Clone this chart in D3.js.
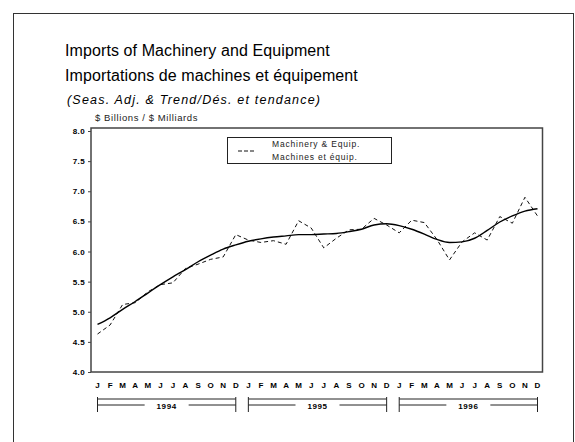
<!DOCTYPE html>
<html>
<head>
<meta charset="utf-8">
<script src="https://cdn.jsdelivr.net/npm/d3@7"></script>
<style>
  body { margin: 0; background: #fff; }
  text { font-family: "Liberation Sans", Arial, sans-serif; }
</style>
</head>
<body>
<script>
// Monthly values, Jan 1994 - Dec 1996 ($ billions)
const months = ["J","F","M","A","M","J","J","A","S","O","N","D"];
const years = ["1994", "1995", "1996"];
const seasAdj = [
    4.63, 4.78, 5.12, 5.15, 5.33, 5.45, 5.48, 5.72, 5.79, 5.87, 5.91, 6.28,
    6.19, 6.15, 6.18, 6.12, 6.51, 6.39, 6.06, 6.22, 6.36, 6.37, 6.55, 6.44,
    6.31, 6.52, 6.48, 6.20, 5.86, 6.16, 6.31, 6.19, 6.58, 6.47, 6.90, 6.59
];
const trend = [
    4.79, 4.90, 5.04, 5.17, 5.31, 5.45, 5.58, 5.70, 5.83, 5.94, 6.04, 6.11,
    6.17, 6.21, 6.24, 6.26, 6.28, 6.28, 6.29, 6.30, 6.33, 6.37, 6.44, 6.46,
    6.43, 6.37, 6.29, 6.20, 6.15, 6.16, 6.22, 6.35, 6.49, 6.59, 6.67, 6.71
];
const yTicks = [4.0, 4.5, 5.0, 5.5, 6.0, 6.5, 7.0, 7.5, 8.0];
const legendLabels = ["Machinery & Equip.", "Machines et équip."];

const width = 575;
const height = 442;

const svg = d3.select("body").append("svg")
    .attr("width", width)
    .attr("height", height);

// outer frame
svg.append("rect")
    .attr("x", 13.5).attr("y", 13.5)
    .attr("width", 560).attr("height", 440)
    .attr("fill", "none").attr("stroke", "#333").attr("stroke-width", 1);

// titles
svg.append("text").attr("x", 65).attr("y", 56)
    .attr("font-size", 16).attr("letter-spacing", 0.1)
    .text("Imports of Machinery and Equipment");
svg.append("text").attr("x", 65).attr("y", 81)
    .attr("font-size", 16).attr("letter-spacing", 0.1)
    .text("Importations de machines et équipement");
svg.append("text").attr("x", 67).attr("y", 104)
    .attr("font-size", 12.5).attr("font-style", "italic").attr("letter-spacing", 1.2)
    .text("(Seas. Adj. & Trend/Dés. et tendance)");
svg.append("text").attr("x", 95).attr("y", 121)
    .attr("font-size", 9.5).attr("fill", "#222").attr("letter-spacing", 0.6)
    .text("$ Billions / $ Milliards");

const n = seasAdj.length;
const x = d3.scaleLinear().domain([0, n - 1]).range([97.5, 537.5]);
const y = d3.scaleLinear().domain([4, 8.05]).range([372, 128]);

// plot frame
svg.append("rect")
    .attr("x", 91).attr("y", 128)
    .attr("width", 451.5).attr("height", 244)
    .attr("fill", "none").attr("stroke", "#444").attr("stroke-width", 1.5);

// y axis
const yAxis = svg.append("g")
    .attr("transform", "translate(91,0)")
    .call(d3.axisLeft(y).tickValues(yTicks).tickFormat(d3.format(".1f")).tickSize(3));
yAxis.select(".domain").remove();
yAxis.selectAll("line").attr("stroke", "#444");
yAxis.selectAll("text")
    .attr("font-size", 8).attr("font-weight", "bold").attr("letter-spacing", 0.4)
    .attr("font-family", "'DejaVu Sans', sans-serif").attr("fill", "#000");

// month letters
svg.append("g").selectAll("text")
    .data(d3.range(n))
    .join("text")
    .attr("x", i => x(i))
    .attr("y", 388)
    .attr("text-anchor", "middle")
    .attr("font-size", 8).attr("font-weight", "bold")
    .attr("font-family", "'DejaVu Sans', sans-serif")
    .text(i => months[i % 12]);

// year brackets
const yr = svg.append("g").attr("stroke", "#222").attr("stroke-width", 1);
years.forEach((label, k) => {
    const x0 = x(k * 12), x1 = x(k * 12 + 11), cx = (x0 + x1) / 2;
    yr.append("line").attr("x1", x0).attr("x2", x1).attr("y1", 399).attr("y2", 399);
    yr.append("line").attr("x1", x0).attr("x2", cx - 22).attr("y1", 405).attr("y2", 405);
    yr.append("line").attr("x1", cx + 22).attr("x2", x1).attr("y1", 405).attr("y2", 405);
    yr.append("line").attr("x1", x0).attr("x2", x0).attr("y1", 397).attr("y2", 412);
    yr.append("line").attr("x1", x1).attr("x2", x1).attr("y1", 397).attr("y2", 412);
    svg.append("text").attr("x", cx).attr("y", 408.5)
        .attr("text-anchor", "middle")
        .attr("font-size", 8).attr("font-weight", "bold").attr("letter-spacing", 0.6)
        .attr("font-family", "'DejaVu Sans', sans-serif")
        .text(label);
});

// lines
const line = d3.line().x((d, i) => x(i)).y(d => y(d));
svg.append("path")
    .attr("d", line(seasAdj))
    .attr("fill", "none").attr("stroke", "#111").attr("stroke-width", 1)
    .attr("stroke-dasharray", "4,3");
svg.append("path")
    .attr("d", line.curve(d3.curveMonotoneX)(trend))
    .attr("fill", "none").attr("stroke", "#000").attr("stroke-width", 1.4);

// legend
svg.append("rect")
    .attr("x", 227.5).attr("y", 137.5)
    .attr("width", 164).attr("height", 26)
    .attr("fill", "#fff").attr("stroke", "#222").attr("stroke-width", 1);
svg.append("line")
    .attr("x1", 238).attr("x2", 254).attr("y1", 151).attr("y2", 151)
    .attr("stroke", "#111").attr("stroke-dasharray", "4,2");
svg.append("g").selectAll("text")
    .data(legendLabels)
    .join("text")
    .attr("x", 272)
    .attr("y", (d, i) => 147 + i * 12.5)
    .attr("font-size", 8.5).attr("fill", "#222").attr("letter-spacing", 0.8)
    .text(d => d);
</script>
</body>
</html>
